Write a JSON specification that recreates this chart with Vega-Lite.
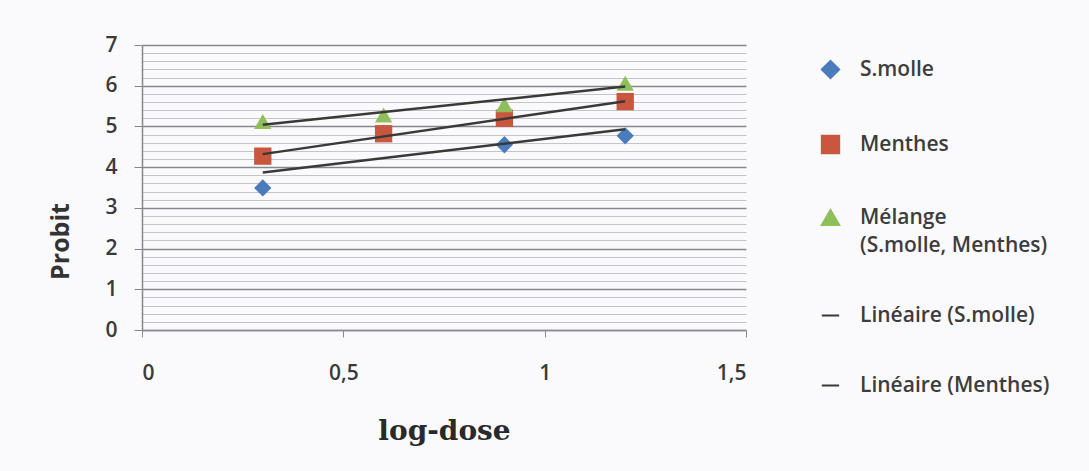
{
  "$schema": "https://vega.github.io/schema/vega-lite/v6.json",
  "width": 604,
  "height": 285,
  "autosize": {"type": "none"},
  "padding": {"left": 142, "top": 45, "right": 343, "bottom": 141},
  "background": "#fafafc",
  "config": {
    "view": {"stroke": null},
    "font": "Open Sans",
    "style": {"guide-label": {"lineHeight": 28}}
  },
  "datasets": {
    "pts": [
      {"x": 0.3, "y": 3.49, "series": "S.molle"},
      {"x": 0.6, "y": 4.83, "series": "S.molle"},
      {"x": 0.9, "y": 4.55, "series": "S.molle"},
      {"x": 1.2, "y": 4.77, "series": "S.molle"},
      {"x": 0.3, "y": 4.27, "series": "Menthes"},
      {"x": 0.6, "y": 4.82, "series": "Menthes"},
      {"x": 0.9, "y": 5.2, "series": "Menthes"},
      {"x": 1.2, "y": 5.61, "series": "Menthes"},
      {"x": 0.3, "y": 5.12, "series": "Mélange (S.molle, Menthes)"},
      {"x": 0.6, "y": 5.28, "series": "Mélange (S.molle, Menthes)"},
      {"x": 0.9, "y": 5.53, "series": "Mélange (S.molle, Menthes)"},
      {"x": 1.2, "y": 6.06, "series": "Mélange (S.molle, Menthes)"}
    ],
    "trend": [
      {"x": 0.3, "y": 3.87, "series": "Linéaire (S.molle)"},
      {"x": 1.2, "y": 4.93, "series": "Linéaire (S.molle)"},
      {"x": 0.3, "y": 4.32, "series": "Linéaire (Menthes)"},
      {"x": 1.2, "y": 5.62, "series": "Linéaire (Menthes)"},
      {"x": 0.3, "y": 5.04, "series": "Linéaire (Mélange (S.molle, Menthes))"},
      {"x": 1.2, "y": 5.98, "series": "Linéaire (Mélange (S.molle, Menthes))"}
    ]
  },
  "layer": [
    {
      "data": {"name": "pts"},
      "mark": {"type": "point", "filled": true, "opacity": 1, "size": 300},
      "encoding": {
        "x": {
          "field": "x", "type": "quantitative",
          "scale": {"domain": [0, 1.5], "nice": false, "zero": false},
          "axis": {
            "grid": false,
            "values": [0, 0.5, 1, 1.5],
            "tickCount": 10,
            "labelExpr": "replace(format(datum.value, '.1~f'), '.', ',')",
            "labelFont": "Open Sans",
            "labelFontSize": 21,
            "labelFontWeight": 600,
            "labelColor": "#3a3a3a",
            "labelPadding": 25,
            "tickSize": 7,
            "tickColor": "#8a8a94",
            "domainColor": "#8a8a94",
            "domainWidth": 1.5,
            "title": "log-dose",
            "titleFont": "DejaVu Serif",
            "titleFontSize": 28,
            "titleFontWeight": "bold",
            "titleColor": "#2a2a2a",
            "titleX": 302,
            "titleY": 109,
            "titleBaseline": "alphabetic",
            "titleAlign": "center"
          }
        },
        "y": {
          "field": "y", "type": "quantitative",
          "scale": {"domain": [0, 7], "nice": false},
          "axis": {
            "values": [0,0.2,0.4,0.6,0.8,1,1.2,1.4,1.6,1.8,2,2.2,2.4,2.6,2.8,3,3.2,3.4,3.6,3.8,4,4.2,4.4,4.6,4.8,5,5.2,5.4,5.6,5.8,6,6.2,6.4,6.6,6.8,7],
            "tickCount": 100,
            "labelExpr": "abs(datum.value - round(datum.value)) < 0.01 ? format(datum.value, 'd') : ''",
            "grid": true,
            "gridColor": {"condition": {"test": "abs(datum.value - round(datum.value)) < 0.01", "value": "#86868f"}, "value": "#c4c4ce"},
            "gridWidth": {"condition": {"test": "abs(datum.value - round(datum.value)) < 0.01", "value": 1.4}, "value": 1},
            "tickSize": {"condition": {"test": "abs(datum.value - round(datum.value)) < 0.01", "value": 8}, "value": 0},
            "domainColor": "#86868f",
            "domainWidth": 1.5,
            "tickColor": "#86868f",
            "labelFont": "Open Sans",
            "labelFontSize": 21,
            "labelFontWeight": 600,
            "labelColor": "#3a3a3a",
            "labelPadding": 17,
            "labelOverlap": false,
            "labelBound": false,
            "title": "Probit",
            "titleFont": "Open Sans",
            "titleFontSize": 25,
            "titleFontWeight": "bold",
            "titleColor": "#333333",
            "titleAngle": 270,
            "titleX": -82,
            "titleY": 196,
            "titleAlign": "center",
            "titleBaseline": "middle"
          }
        },
        "color": {
          "field": "series", "type": "nominal",
          "scale": {
            "domain": ["S.molle", "Menthes", "Mélange (S.molle, Menthes)", "Linéaire (S.molle)", "Linéaire (Menthes)", "Linéaire (Mélange (S.molle, Menthes))"],
            "range": ["#4a7bbd", "#c9563e", "#8fbf5a", "#3b3838", "#3b3838", "#3b3838"]
          },
          "legend": {
            "orient": "none",
            "legendX": 678,
            "legendY": 14,
            "title": null,
            "padding": 0,
            "values": ["S.molle", "Menthes", "Mélange (S.molle, Menthes)", "Linéaire (S.molle)", "Linéaire (Menthes)"],
            "symbolSize": 300,
            "symbolStrokeWidth": 2,
            "labelOffset": 19,
            "rowPadding": 48,
            "labelFont": "Open Sans",
            "labelFontSize": 21,
            "labelFontWeight": 600,
            "labelColor": "#3d3d3d",
            "labelLimit": 400,
            "labelExpr": "datum.value == 'Mélange (S.molle, Menthes)' ? ['Mélange', '(S.molle, Menthes)'] : datum.label"
          }
        },
        "shape": {
          "field": "series", "type": "nominal",
          "scale": {
            "domain": ["S.molle", "Menthes", "Mélange (S.molle, Menthes)", "Linéaire (S.molle)", "Linéaire (Menthes)", "Linéaire (Mélange (S.molle, Menthes))"],
            "range": ["diamond", "square", "triangle-up", "stroke", "stroke", "stroke"]
          },
          "legend": {
            "orient": "none",
            "legendX": 678,
            "legendY": 14,
            "title": null,
            "padding": 0,
            "values": ["S.molle", "Menthes", "Mélange (S.molle, Menthes)", "Linéaire (S.molle)", "Linéaire (Menthes)"],
            "symbolSize": 300,
            "symbolStrokeWidth": 2,
            "labelOffset": 19,
            "rowPadding": 48,
            "labelFont": "Open Sans",
            "labelFontSize": 21,
            "labelFontWeight": 600,
            "labelColor": "#3d3d3d",
            "labelLimit": 400,
            "labelExpr": "datum.value == 'Mélange (S.molle, Menthes)' ? ['Mélange', '(S.molle, Menthes)'] : datum.label"
          }
        }
      }
    },
    {
      "data": {"name": "trend"},
      "mark": {"type": "line", "strokeWidth": 2.5},
      "encoding": {
        "x": {"field": "x", "type": "quantitative"},
        "y": {"field": "y", "type": "quantitative"},
        "color": {"field": "series", "type": "nominal"}
      }
    }
  ]
}
